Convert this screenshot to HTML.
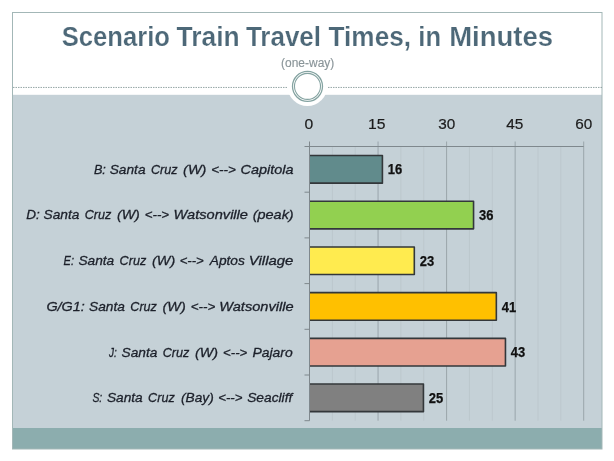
<!DOCTYPE html>
<html lang="en"><head><meta charset="utf-8"><title>Scenario Train Travel Times, in Minutes</title>
<style>
html,body{margin:0;padding:0;background:#fff;}
body{width:614px;height:461px;overflow:hidden;font-family:"Liberation Sans",sans-serif;}
svg{display:block;}
text{font-family:"Liberation Sans",sans-serif;}
.ti{font-size:27.3px;font-weight:bold;fill:#4d6878;stroke:#ffffff;stroke-width:0.2px;}
.la{font-size:13.4px;font-style:italic;fill:#1c202a;stroke:#1c202a;stroke-width:0.3px;}
.dl{font-size:14.7px;font-weight:bold;fill:#111111;stroke:#111111;stroke-width:0.25px;}
.ax{font-size:15.3px;fill:#1c1c1c;stroke:#1c1c1c;stroke-width:0.2px;}
.su{font-size:12.5px;fill:#8a9599;stroke:#8a9599;stroke-width:0.15px;}
</style></head><body>
<svg width="614" height="461" viewBox="0 0 614 461">
<rect x="0" y="0" width="614" height="461" fill="#ffffff"/>
<!-- slide body -->
<rect x="12.5" y="94.8" width="589.5" height="333.7" fill="#c5d1d7"/>
<rect x="12.5" y="428" width="589.5" height="21" fill="#8cadae"/>
<!-- frame -->
<rect x="12.5" y="12.5" width="589.5" height="436.5" fill="none" stroke="#a3b7b7" stroke-width="1"/>
<!-- header bump and ring -->
<circle cx="307.4" cy="85.9" r="20.1" fill="#ffffff"/>
<line x1="13" y1="87.45" x2="287" y2="87.45" stroke="#7b9191" stroke-width="0.8" stroke-dasharray="1.5 1"/>
<line x1="328" y1="87.45" x2="602" y2="87.45" stroke="#7b9191" stroke-width="0.8" stroke-dasharray="1.5 1"/>
<circle cx="307.5" cy="86.35" r="15.0" fill="#ffffff" stroke="#84a3a1" stroke-width="1.3"/>
<circle cx="307.5" cy="86.35" r="13.0" fill="none" stroke="#84a3a1" stroke-width="1.05"/>
<!-- title -->
<text class="ti" x="61.70" y="45.65" textLength="108.23" lengthAdjust="spacingAndGlyphs">Scenario</text>
<text class="ti" x="176.60" y="45.65" textLength="63.02" lengthAdjust="spacingAndGlyphs">Train</text>
<text class="ti" x="245.90" y="45.65" textLength="75.11" lengthAdjust="spacingAndGlyphs">Travel</text>
<text class="ti" x="328.60" y="45.65" textLength="82.42" lengthAdjust="spacingAndGlyphs">Times,</text>
<text class="ti" x="418.36" y="45.65" textLength="22.70" lengthAdjust="spacingAndGlyphs">in</text>
<text class="ti" x="449.19" y="45.65" textLength="103.89" lengthAdjust="spacingAndGlyphs">Minutes</text>
<text class="su" x="281.10" y="66.55" textLength="53.16" lengthAdjust="spacingAndGlyphs">(one-way)</text>
<!-- gridlines -->
<line x1="332.35" y1="146.50" x2="332.35" y2="420.70" stroke="#bcc7cd" stroke-width="1"/>
<line x1="355.20" y1="146.50" x2="355.20" y2="420.70" stroke="#bcc7cd" stroke-width="1"/>
<line x1="378.05" y1="141.50" x2="378.05" y2="420.70" stroke="#9aa5ab" stroke-width="1"/>
<line x1="400.90" y1="146.50" x2="400.90" y2="420.70" stroke="#bcc7cd" stroke-width="1"/>
<line x1="423.75" y1="146.50" x2="423.75" y2="420.70" stroke="#bcc7cd" stroke-width="1"/>
<line x1="446.60" y1="141.50" x2="446.60" y2="420.70" stroke="#9aa5ab" stroke-width="1"/>
<line x1="469.45" y1="146.50" x2="469.45" y2="420.70" stroke="#bcc7cd" stroke-width="1"/>
<line x1="492.30" y1="146.50" x2="492.30" y2="420.70" stroke="#bcc7cd" stroke-width="1"/>
<line x1="515.15" y1="141.50" x2="515.15" y2="420.70" stroke="#9aa5ab" stroke-width="1"/>
<line x1="538.00" y1="146.50" x2="538.00" y2="420.70" stroke="#bcc7cd" stroke-width="1"/>
<line x1="560.85" y1="146.50" x2="560.85" y2="420.70" stroke="#bcc7cd" stroke-width="1"/>
<line x1="583.70" y1="141.50" x2="583.70" y2="420.70" stroke="#9aa5ab" stroke-width="1"/>
<!-- axis labels -->
<text class="ax" x="304.40" y="128.85" textLength="8.72" lengthAdjust="spacingAndGlyphs">0</text>
<text class="ax" x="368.07" y="128.85" textLength="17.45" lengthAdjust="spacingAndGlyphs">15</text>
<text class="ax" x="438.30" y="128.85" textLength="17.01" lengthAdjust="spacingAndGlyphs">30</text>
<text class="ax" x="506.30" y="128.85" textLength="17.11" lengthAdjust="spacingAndGlyphs">45</text>
<text class="ax" x="575.30" y="128.85" textLength="17.01" lengthAdjust="spacingAndGlyphs">60</text>
<!-- bars -->
<rect x="309.50" y="155.55" width="72.91" height="27.6" fill="#618b8c"/>
<path d="M309.50 155.55H382.41V183.15H309.50" fill="none" stroke="#33373a" stroke-width="1.6" stroke-linejoin="round"/>
<text class="dl" x="387.81" y="174.45" textLength="14.45" lengthAdjust="spacingAndGlyphs">16</text>
<text class="la" x="93.90" y="173.75" textLength="11.94" lengthAdjust="spacingAndGlyphs">B:</text>
<text class="la" x="109.70" y="173.75" textLength="35.86" lengthAdjust="spacingAndGlyphs">Santa</text>
<text class="la" x="150.90" y="173.75" textLength="26.61" lengthAdjust="spacingAndGlyphs">Cruz</text>
<text class="la" x="183.10" y="173.75" textLength="23.30" lengthAdjust="spacingAndGlyphs">(W)</text>
<text class="la" x="211.20" y="173.75" textLength="24.72" lengthAdjust="spacingAndGlyphs">&lt;--&gt;</text>
<text class="la" x="240.60" y="173.75" textLength="52.98" lengthAdjust="spacingAndGlyphs">Capitola</text>
<rect x="309.50" y="201.25" width="164.05" height="27.6" fill="#92d050"/>
<path d="M309.50 201.25H473.55V228.85H309.50" fill="none" stroke="#33373a" stroke-width="1.6" stroke-linejoin="round"/>
<text class="dl" x="478.95" y="220.15" textLength="14.45" lengthAdjust="spacingAndGlyphs">36</text>
<text class="la" x="26.20" y="219.45" textLength="13.52" lengthAdjust="spacingAndGlyphs">D:</text>
<text class="la" x="43.50" y="219.45" textLength="35.86" lengthAdjust="spacingAndGlyphs">Santa</text>
<text class="la" x="84.70" y="219.45" textLength="26.61" lengthAdjust="spacingAndGlyphs">Cruz</text>
<text class="la" x="116.90" y="219.45" textLength="22.99" lengthAdjust="spacingAndGlyphs">(W)</text>
<text class="la" x="144.80" y="219.45" textLength="24.32" lengthAdjust="spacingAndGlyphs">&lt;--&gt;</text>
<text class="la" x="173.61" y="219.45" textLength="74.38" lengthAdjust="spacingAndGlyphs">Watsonville</text>
<text class="la" x="252.70" y="219.45" textLength="41.00" lengthAdjust="spacingAndGlyphs">(peak)</text>
<rect x="309.50" y="246.95" width="104.81" height="27.6" fill="#ffeb4f"/>
<path d="M309.50 246.95H414.31V274.55H309.50" fill="none" stroke="#33373a" stroke-width="1.6" stroke-linejoin="round"/>
<text class="dl" x="419.71" y="265.85" textLength="14.45" lengthAdjust="spacingAndGlyphs">23</text>
<text class="la" x="63.60" y="265.15" textLength="10.47" lengthAdjust="spacingAndGlyphs">E:</text>
<text class="la" x="78.40" y="265.15" textLength="35.86" lengthAdjust="spacingAndGlyphs">Santa</text>
<text class="la" x="119.60" y="265.15" textLength="26.61" lengthAdjust="spacingAndGlyphs">Cruz</text>
<text class="la" x="152.00" y="265.15" textLength="23.19" lengthAdjust="spacingAndGlyphs">(W)</text>
<text class="la" x="179.70" y="265.15" textLength="24.12" lengthAdjust="spacingAndGlyphs">&lt;--&gt;</text>
<text class="la" x="209.73" y="265.15" textLength="35.16" lengthAdjust="spacingAndGlyphs">Aptos</text>
<text class="la" x="248.89" y="265.15" textLength="44.51" lengthAdjust="spacingAndGlyphs">Village</text>
<rect x="309.50" y="292.65" width="186.84" height="27.6" fill="#ffc000"/>
<path d="M309.50 292.65H496.34V320.25H309.50" fill="none" stroke="#33373a" stroke-width="1.6" stroke-linejoin="round"/>
<text class="dl" x="501.74" y="311.55" textLength="14.45" lengthAdjust="spacingAndGlyphs">41</text>
<text class="la" x="46.40" y="310.85" textLength="38.40" lengthAdjust="spacingAndGlyphs">G/G1:</text>
<text class="la" x="89.10" y="310.85" textLength="35.86" lengthAdjust="spacingAndGlyphs">Santa</text>
<text class="la" x="130.30" y="310.85" textLength="26.61" lengthAdjust="spacingAndGlyphs">Cruz</text>
<text class="la" x="162.50" y="310.85" textLength="23.19" lengthAdjust="spacingAndGlyphs">(W)</text>
<text class="la" x="190.70" y="310.85" textLength="24.52" lengthAdjust="spacingAndGlyphs">&lt;--&gt;</text>
<text class="la" x="219.21" y="310.85" textLength="74.38" lengthAdjust="spacingAndGlyphs">Watsonville</text>
<rect x="309.50" y="338.35" width="195.95" height="27.6" fill="#e6a191"/>
<path d="M309.50 338.35H505.45V365.95H309.50" fill="none" stroke="#33373a" stroke-width="1.6" stroke-linejoin="round"/>
<text class="dl" x="510.85" y="357.25" textLength="14.45" lengthAdjust="spacingAndGlyphs">43</text>
<text class="la" x="109.04" y="356.55" textLength="7.75" lengthAdjust="spacingAndGlyphs">J:</text>
<text class="la" x="121.50" y="356.55" textLength="35.86" lengthAdjust="spacingAndGlyphs">Santa</text>
<text class="la" x="162.70" y="356.55" textLength="26.61" lengthAdjust="spacingAndGlyphs">Cruz</text>
<text class="la" x="195.00" y="356.55" textLength="23.09" lengthAdjust="spacingAndGlyphs">(W)</text>
<text class="la" x="223.10" y="356.55" textLength="24.12" lengthAdjust="spacingAndGlyphs">&lt;--&gt;</text>
<text class="la" x="252.50" y="356.55" textLength="40.23" lengthAdjust="spacingAndGlyphs">Pajaro</text>
<rect x="309.50" y="384.05" width="113.93" height="27.6" fill="#808080"/>
<path d="M309.50 384.05H423.43V411.65H309.50" fill="none" stroke="#33373a" stroke-width="1.6" stroke-linejoin="round"/>
<text class="dl" x="428.82" y="402.95" textLength="14.45" lengthAdjust="spacingAndGlyphs">25</text>
<text class="la" x="92.40" y="402.25" textLength="9.88" lengthAdjust="spacingAndGlyphs">S:</text>
<text class="la" x="106.90" y="402.25" textLength="35.86" lengthAdjust="spacingAndGlyphs">Santa</text>
<text class="la" x="148.10" y="402.25" textLength="26.61" lengthAdjust="spacingAndGlyphs">Cruz</text>
<text class="la" x="181.00" y="402.25" textLength="32.77" lengthAdjust="spacingAndGlyphs">(Bay)</text>
<text class="la" x="218.20" y="402.25" textLength="24.22" lengthAdjust="spacingAndGlyphs">&lt;--&gt;</text>
<text class="la" x="247.20" y="402.25" textLength="45.09" lengthAdjust="spacingAndGlyphs">Seacliff</text>
<!-- axes -->
<line x1="309.50" y1="141.50" x2="309.50" y2="420.70" stroke="#7f888d" stroke-width="1"/>
<line x1="309.50" y1="146.50" x2="583.70" y2="146.50" stroke="#7f888d" stroke-width="1"/>
<line x1="304.50" y1="146.50" x2="309.50" y2="146.50" stroke="#7f888d" stroke-width="1"/>
<line x1="304.50" y1="192.20" x2="309.50" y2="192.20" stroke="#7f888d" stroke-width="1"/>
<line x1="304.50" y1="237.90" x2="309.50" y2="237.90" stroke="#7f888d" stroke-width="1"/>
<line x1="304.50" y1="283.60" x2="309.50" y2="283.60" stroke="#7f888d" stroke-width="1"/>
<line x1="304.50" y1="329.30" x2="309.50" y2="329.30" stroke="#7f888d" stroke-width="1"/>
<line x1="304.50" y1="375.00" x2="309.50" y2="375.00" stroke="#7f888d" stroke-width="1"/>
<line x1="304.50" y1="420.70" x2="309.50" y2="420.70" stroke="#7f888d" stroke-width="1"/>
</svg>
</body></html>
